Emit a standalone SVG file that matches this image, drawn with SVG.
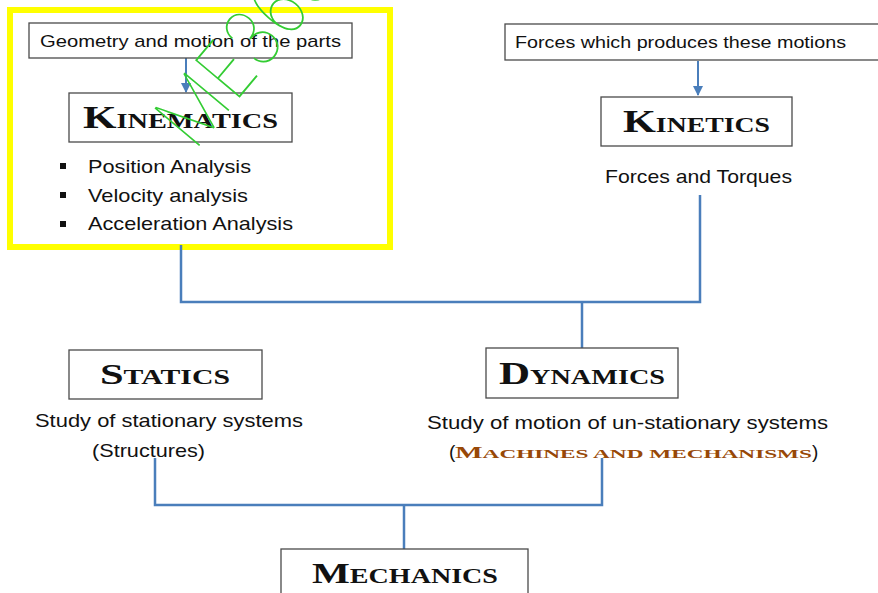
<svg xmlns="http://www.w3.org/2000/svg" width="878" height="593" viewBox="0 0 878 593">
<style>
.box{fill:#fff;stroke:#4a4a4a;stroke-width:1.3}
.body{font-family:"Liberation Sans",Arial,sans-serif;font-size:19px;fill:#111}
.small{font-family:"Liberation Sans",Arial,sans-serif;font-size:17px;fill:#111}
.title{font-family:"Liberation Serif","Times New Roman",serif;font-weight:bold;fill:#111}
.conn{fill:none;stroke:#4a7ebb;stroke-width:2.5}
.arr{fill:none;stroke:#4a7ebb;stroke-width:2}
.bul{fill:#111}
</style>
<defs>
<marker id="ah" viewBox="0 0 10 10" refX="9" refY="5" markerWidth="5" markerHeight="5" orient="auto" markerUnits="strokeWidth">
<path d="M0,0 L10,5 L0,10 z" fill="#4a7ebb"/>
</marker>
</defs>
<rect width="878" height="593" fill="#fff"/>

<g id="highlight">
<rect x="10" y="10" width="380" height="237" fill="none" stroke="#ffff00" stroke-width="6"/>
</g>

<g id="connectors">
<line class="arr" x1="186" y1="58" x2="186" y2="92" marker-end="url(#ah)"/>
<line class="arr" x1="698" y1="61" x2="698" y2="95" marker-end="url(#ah)"/>
<polyline class="conn" points="181,245 181,302 700,302 700,195"/>
<line class="conn" x1="582" y1="302" x2="582" y2="348"/>
<polyline class="conn" points="155,458 155,505 602,505 602,458"/>
<line class="conn" x1="404" y1="505" x2="404" y2="549"/>
</g>

<g id="geometry">
<rect class="box" x="29" y="23" width="323" height="35"/>
<text class="small" x="40" y="47" textLength="301" lengthAdjust="spacingAndGlyphs">Geometry and motion of the parts</text>
</g>

<g id="kinematics">
<rect class="box" x="69" y="93" width="223" height="49"/>
<text class="title" x="83" y="128" textLength="195" lengthAdjust="spacingAndGlyphs"><tspan font-size="32">K</tspan><tspan font-size="21">INEMATICS</tspan></text>
<rect class="bul" x="60" y="163" width="6" height="6"/>
<rect class="bul" x="60" y="192" width="6" height="6"/>
<rect class="bul" x="60" y="221" width="6" height="6"/>
<text class="body" x="88" y="173" textLength="163" lengthAdjust="spacingAndGlyphs">Position Analysis</text>
<text class="body" x="88" y="202" textLength="160" lengthAdjust="spacingAndGlyphs">Velocity analysis</text>
<text class="body" x="88" y="230" textLength="205" lengthAdjust="spacingAndGlyphs">Acceleration Analysis</text>
</g>

<g id="forces">
<rect class="box" x="505" y="24" width="380" height="36"/>
<text class="small" x="515" y="48" textLength="331" lengthAdjust="spacingAndGlyphs">Forces which produces these motions</text>
</g>

<g id="kinetics">
<rect class="box" x="601" y="97" width="191" height="49"/>
<text class="title" x="623" y="132" textLength="147" lengthAdjust="spacingAndGlyphs"><tspan font-size="32">K</tspan><tspan font-size="21">INETICS</tspan></text>
<text class="body" x="605" y="183" textLength="187" lengthAdjust="spacingAndGlyphs">Forces and Torques</text>
</g>

<g id="statics">
<rect class="box" x="69" y="350" width="193" height="49"/>
<text class="title" x="100" y="384" textLength="130" lengthAdjust="spacingAndGlyphs"><tspan font-size="30">S</tspan><tspan font-size="21">TATICS</tspan></text>
<text class="body" x="35" y="427" textLength="268" lengthAdjust="spacingAndGlyphs">Study of stationary systems</text>
<text class="body" x="92" y="457" textLength="113" lengthAdjust="spacingAndGlyphs">(Structures)</text>
</g>

<g id="dynamics">
<rect class="box" x="486" y="348" width="192" height="50"/>
<text class="title" x="499" y="384" textLength="166" lengthAdjust="spacingAndGlyphs"><tspan font-size="32">D</tspan><tspan font-size="21">YNAMICS</tspan></text>
<text class="body" x="427" y="429" textLength="401" lengthAdjust="spacingAndGlyphs">Study of motion of un-stationary systems</text>
<text class="body" x="449" y="458">(</text>
<text class="title" x="455" y="458" style="fill:#984807" textLength="357" lengthAdjust="spacingAndGlyphs"><tspan font-size="17">M</tspan><tspan font-size="13.5">ACHINES AND MECHANISMS</tspan></text>
<text class="body" x="812" y="458">)</text>
</g>

<g id="mechanics">
<rect class="box" x="281" y="549" width="247" height="60"/>
<text class="title" x="312" y="583" textLength="186" lengthAdjust="spacingAndGlyphs"><tspan font-size="30">M</tspan><tspan font-size="21">ECHANICS</tspan></text>
</g>

<g id="watermark">
<text x="0" y="0" transform="translate(194,152) rotate(-50) scale(0.88,1)" font-family="Inter,'Liberation Sans',sans-serif" font-weight="100" font-size="80" fill="#33cc33">ME363</text>
</g>
</svg>
